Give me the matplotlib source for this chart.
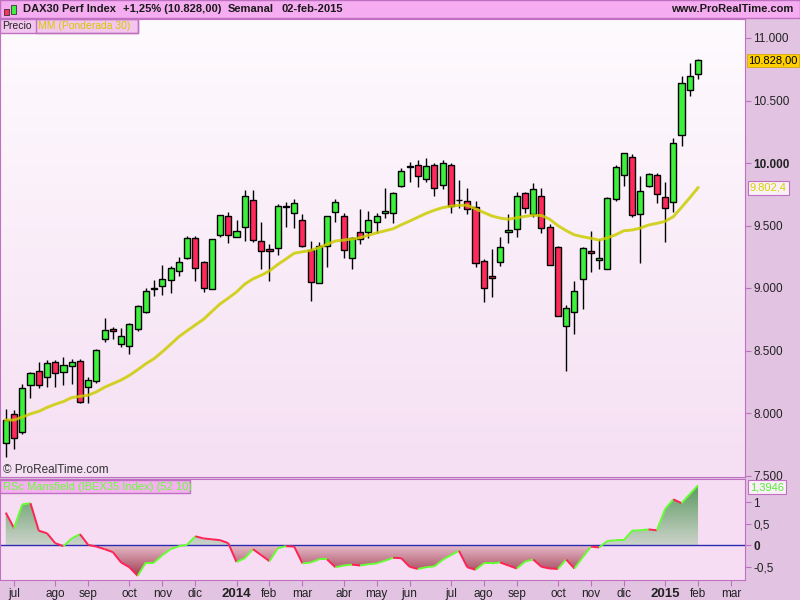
import numpy as np
import pandas as pd
import matplotlib
matplotlib.use('Agg')
import matplotlib.pyplot as plt
from matplotlib.collections import LineCollection
from matplotlib.colors import LinearSegmentedColormap
from matplotlib.patches import Rectangle
from matplotlib.path import Path

plt.rcParams['font.family'] = ['Liberation Sans', 'DejaVu Sans']

# velas semanales DAX30 (24-jun-2013 .. 02-feb-2015)
opens = [7762, 7990, 7850, 8226, 8334, 8290, 8406, 8330, 8378, 8414,
         8210, 8258, 8590, 8670, 8550, 8538, 8674, 8810, 8996, 9018,
         9066, 9138, 9242, 9398, 9206, 8990, 9422, 9574, 9406, 9488,
         9702, 9374, 9310, 9318, 9650, 9602, 9542, 9304, 9038, 9336,
         9610, 9574, 9238, 9446, 9446, 9526, 9598, 9598, 9814, 9970,
         9982, 9874, 9982, 9822, 9982, 9704, 9698, 9646, 9214, 9096,
         9206, 9446, 9470, 9758, 9590, 9734, 9486, 9326, 8694, 8806,
         9070, 9294, 9222, 9150, 9710, 9902, 10046, 9590, 9814, 9902,
         9726, 9686, 10222, 10582, 10710]
highs = [8029, 8024, 8230, 8330, 8408, 8424, 8424, 8446, 8430, 8430,
         8286, 8512, 8760, 8688, 8678, 8720, 8864, 8998, 9064, 9184,
         9176, 9246, 9416, 9416, 9218, 9394, 9587, 9606, 9542, 9782,
         9782, 9528, 9350, 9672, 9686, 9712, 9592, 9376, 9368, 9574,
         9712, 9598, 9406, 9630, 9616, 9600, 9800, 9766, 9958, 10006,
         10024, 10038, 9998, 10024, 9998, 9864, 9798, 9694, 9230, 9312,
         9406, 9592, 9766, 9770, 9838, 9798, 9512, 9336, 8864, 9056,
         9330, 9456, 9390, 9730, 9984, 10078, 10072, 9896, 9918, 9918,
         9846, 10198, 10696, 10798, 10832]
lows = [7645, 7712, 7832, 8122, 8202, 8206, 8210, 8224, 8232, 8082,
        8082, 8238, 8566, 8590, 8530, 8474, 8656, 8798, 8936, 8944,
        8962, 9096, 9232, 9058, 8970, 8990, 9410, 9358, 9406, 9374,
        9366, 9152, 9058, 9266, 9490, 9482, 9330, 8898, 9038, 9170,
        9528, 9242, 9152, 9352, 9398, 9440, 9558, 9522, 9810, 9850,
        9810, 9850, 9738, 9790, 9602, 9638, 9590, 9170, 8890, 8930,
        9178, 9358, 9410, 9598, 9570, 9442, 9182, 8774, 8338, 8630,
        8830, 9130, 9154, 9150, 9698, 9818, 9570, 9202, 9806, 9678,
        9370, 9610, 10136, 10538, 10670]
closes = [7944, 7798, 8198, 8318, 8226, 8398, 8322, 8382, 8406, 8090,
          8262, 8502, 8662, 8654, 8614, 8710, 8854, 8974, 8998, 9070,
          9158, 9206, 9398, 9158, 8998, 9390, 9582, 9422, 9458, 9734,
          9382, 9294, 9294, 9654, 9652, 9678, 9338, 9046, 9334, 9574,
          9686, 9302, 9398, 9390, 9542, 9574, 9616, 9758, 9934, 9978,
          9898, 9974, 9802, 9998, 9656, 9708, 9630, 9198, 8998, 9078,
          9326, 9462, 9734, 9638, 9790, 9478, 9182, 8774, 8838, 8974,
          9318, 9278, 9238, 9718, 9966, 10078, 9582, 9774, 9910, 9750,
          9638, 10158, 10638, 10694, 10828]

# media movil ponderada 30
ma30 = [7944, 7944, 7967, 7993, 8013, 8044, 8070, 8092, 8123, 8133,
        8142, 8169, 8206, 8235, 8264, 8301, 8346, 8394, 8435, 8490,
        8549, 8610, 8658, 8704, 8750, 8812, 8872, 8919, 8968, 9031,
        9073, 9102, 9137, 9188, 9232, 9278, 9290, 9301, 9323, 9350,
        9376, 9383, 9392, 9402, 9422, 9441, 9457, 9474, 9506, 9535,
        9566, 9597, 9622, 9643, 9654, 9662, 9662, 9633, 9604, 9576,
        9559, 9550, 9562, 9573, 9582, 9580, 9550, 9499, 9459, 9425,
        9410, 9398, 9383, 9402, 9426, 9458, 9464, 9479, 9504, 9517,
        9533, 9570, 9645, 9722, 9802.4]

# RSc Mansfield (IBEX35 Index) (52 10)
rsc = [0.76, 0.40, 0.95, 0.98, 0.34, 0.28, 0.05, -0.02, 0.16, 0.26,
       0.01, -0.03, -0.09, -0.16, -0.40, -0.51, -0.71, -0.40, -0.40, -0.23,
       -0.09, -0.02, 0.01, 0.21, 0.16, 0.14, 0.12, 0.05, -0.39, -0.30,
       -0.09, -0.23, -0.37, -0.07, -0.02, -0.03, -0.42, -0.40, -0.33, -0.33,
       -0.51, -0.47, -0.45, -0.47, -0.44, -0.42, -0.36, -0.29, -0.30, -0.50,
       -0.55, -0.51, -0.49, -0.34, -0.23, -0.13, -0.51, -0.57, -0.42, -0.42,
       -0.40, -0.47, -0.54, -0.38, -0.33, -0.50, -0.54, -0.55, -0.33, -0.54,
       -0.28, -0.03, -0.05, 0.10, 0.12, 0.12, 0.34, 0.35, 0.37, 0.35,
       0.84, 1.07, 0.98, 1.19, 1.3946]

price_ticks = [7500, 8000, 8500, 9000, 9500, 10000, 10500, 11000]
price_labels = ['7.500', '8.000', '8.500', '9.000', '9.500', '10.000', '10.500', '11.000']
rsc_ticks = [-0.5, 0, 0.5, 1]
rsc_labels = ['-0,5', '0', '0,5', '1']
meses = ['ene', 'feb', 'mar', 'abr', 'may', 'jun', 'jul', 'ago', 'sep', 'oct', 'nov', 'dic']

o = np.array(opens, float)
h = np.array(highs, float)
l = np.array(lows, float)
c = np.array(closes, float)
rs = np.array(rsc)
n = len(c)
x = np.arange(n)

# ticks de meses: primera semana de cada mes
fechas = pd.date_range('2013-06-24', periods=90, freq='W-MON')
tick_pos, tick_lab = [], []
for i in range(1, len(fechas)):
    d = fechas[i]
    if d.month != fechas[i - 1].month:
        tick_pos.append(i)
        tick_lab.append(str(d.year) if d.month == 1 else meses[d.month - 1])

W, H = 800, 600
PURPLE = '#c070c0'
fig = plt.figure(figsize=(8, 6), dpi=100, facecolor='#e2c3e2')


def rect(x0, y0, x1, y1):
    return [x0 / W, 1 - y1 / H, (x1 - x0) / W, (y1 - y0) / H]


def fp(xp, yp):
    return xp / W, 1 - yp / H


xlim = (-0.70, 89.7)

# ---- panel principal ----
ax = fig.add_axes(rect(0, 19, 745, 477))
ax.set_xlim(*xlim)
ax.set_ylim(7488, 11152)
bg = LinearSegmentedColormap.from_list('bg', ['#fefbfe', '#f5dff3'])
ax.imshow(np.linspace(0, 1, 256).reshape(-1, 1), extent=[xlim[0], xlim[1], 7488, 11152],
          aspect='auto', cmap=bg, origin='upper', zorder=0)

cols = np.where(c >= o, '#3cf03c', '#ff2a5c')
ax.vlines(x, l, h, color='black', lw=1, zorder=2)
body = np.maximum(np.abs(c - o), 3)
ax.bar(x, body, bottom=np.minimum(o, c), width=0.74, color=cols,
       edgecolor='black', linewidth=1, zorder=3)
ax.plot(x, ma30, color='#cccc00', lw=2.1, alpha=0.85, zorder=4)

ax.yaxis.tick_right()
ax.set_yticks(price_ticks)
ax.set_yticklabels(price_labels)
ax.tick_params(axis='y', direction='out', length=4, color=PURPLE, labelsize=8.5,
               labelcolor='#222222', pad=2)
ax.tick_params(axis='x', bottom=False, labelbottom=False)
for t in ax.get_yticklabels():
    if t.get_text() == '10.000':
        t.set_fontweight('bold')
for s in ax.spines.values():
    s.set_color(PURPLE)

# ---- panel RSc ----
ax2 = fig.add_axes(rect(0, 479, 745, 580))
ax2.set_facecolor('#f6ddf4')
y0, y1 = -0.807, 1.542
gcm = LinearSegmentedColormap.from_list('g', ['#cdd3cb', '#55975a'])
rcm = LinearSegmentedColormap.from_list('r', ['#e6bccb', '#9c3448'])

pos = ax2.fill_between(x, rs, 0, where=rs >= 0, interpolate=True, facecolor='none', edgecolor='none')
neg = ax2.fill_between(x, rs, 0, where=rs <= 0, interpolate=True, facecolor='none', edgecolor='none')
im1 = ax2.imshow(np.linspace(1, 0, 256).reshape(-1, 1), extent=[xlim[0], xlim[1], 0, 1.45],
                 aspect='auto', cmap=gcm, origin='upper', zorder=1)
im1.set_clip_path(Path.make_compound_path(*pos.get_paths()), ax2.transData)
im2 = ax2.imshow(np.linspace(0, 1, 256).reshape(-1, 1), extent=[xlim[0], xlim[1], -0.75, 0],
                 aspect='auto', cmap=rcm, origin='upper', zorder=1)
im2.set_clip_path(Path.make_compound_path(*neg.get_paths()), ax2.transData)

ax2.axhline(0, color='#2c2cb0', lw=1, zorder=2)
segs = [[(i, rs[i]), (i + 1, rs[i + 1])] for i in range(n - 1)]
scol = ['#66ff33' if rs[i + 1] >= rs[i] else '#ff2255' for i in range(n - 1)]
ax2.add_collection(LineCollection(segs, colors=scol, linewidths=1.4, zorder=3))

ax2.set_xlim(*xlim)
ax2.set_ylim(y0, y1)
ax2.yaxis.tick_right()
ax2.set_yticks(rsc_ticks)
ax2.set_yticklabels(rsc_labels)
ax2.set_xticks(tick_pos)
ax2.set_xticklabels(tick_lab)
ax2.tick_params(axis='both', direction='out', length=4, color=PURPLE, labelsize=8.5,
                labelcolor='#222222', pad=2)
for t in ax2.get_yticklabels():
    if t.get_text() == '0':
        t.set_fontweight('bold')
for t in ax2.get_xticklabels():
    if t.get_text().isdigit():
        t.set_fontweight('bold')
        t.set_fontsize(9.5)
for s in ax2.spines.values():
    s.set_color(PURPLE)

# ---- barra de titulo ----
fig.patches.append(Rectangle(fp(0, 18), 1, 18 / H, transform=fig.transFigure,
                             facecolor='#f5acf0', edgecolor=PURPLE, lw=1))
# icono de velas
fig.patches.append(Rectangle(fp(4, 15), 5 / W, 6 / H, transform=fig.transFigure,
                             facecolor='#ff3060', edgecolor='#333333', lw=0.6))
fig.patches.append(Rectangle(fp(11, 14), 5 / W, 9 / H, transform=fig.transFigure,
                             facecolor='#40f040', edgecolor='#333333', lw=0.6))
ttl = dict(fontsize=8, fontweight='bold', color='#1a1a1a', va='center')
fig.text(*fp(23, 9.5), 'DAX30 Perf Index', **ttl)
fig.text(*fp(123, 9.5), '+1,25% (10.828,00)', **ttl)
fig.text(*fp(228, 9.5), 'Semanal', **ttl)
fig.text(*fp(282, 9.5), '02-feb-2015', **ttl)
fig.text(*fp(793, 9.5), 'www.ProRealTime.com', ha='right', **ttl)

# leyendas
fig.patches.append(Rectangle(fp(0, 33), 138 / W, 14 / H, transform=fig.transFigure,
                             facecolor='#f3c6ef', edgecolor=PURPLE, lw=1, zorder=5))
fig.patches.append(Rectangle(fp(36, 33), 102 / W, 14 / H, transform=fig.transFigure,
                             facecolor='none', edgecolor=PURPLE, lw=1, zorder=5))
fig.text(*fp(2.5, 26), 'Precio', fontsize=7.5, color='#222222', va='center', zorder=6)
fig.text(*fp(38, 26), 'MM (Ponderada 30)', fontsize=7.5, color='#d8c800', va='center', zorder=6)
fig.text(*fp(3, 470), '© ProRealTime.com', fontsize=8.5, color='#333333', va='center')

fig.patches.append(Rectangle(fp(0, 493), 190 / W, 13 / H, transform=fig.transFigure,
                             facecolor='#f4b2f0', edgecolor=PURPLE, lw=1, zorder=5))
fig.text(*fp(3, 486.5), 'RSc Mansfield (IBEX35 Index) (52 10)', fontsize=8, color='#66ff33',
         va='center', zorder=6)

# etiquetas de valor en el eje
fig.text(*fp(748, 60.5), '10.828,00', fontsize=8, color='black', va='center',
         bbox=dict(boxstyle='square,pad=0.12', facecolor='#ffd000', edgecolor='#d0a000', lw=0.5))
fig.text(*fp(750, 188), '9.802,4', fontsize=8, color='#d8d000', va='center',
         bbox=dict(boxstyle='square,pad=0.15', facecolor='#faf0f8', edgecolor=PURPLE, lw=0.8))
fig.text(*fp(750, 487), '1,3946', fontsize=8, color='#55ee33', va='center',
         bbox=dict(boxstyle='square,pad=0.15', facecolor='#faf0f8', edgecolor=PURPLE, lw=0.8))

fig.savefig('out.png', dpi=100, facecolor=fig.get_facecolor())
